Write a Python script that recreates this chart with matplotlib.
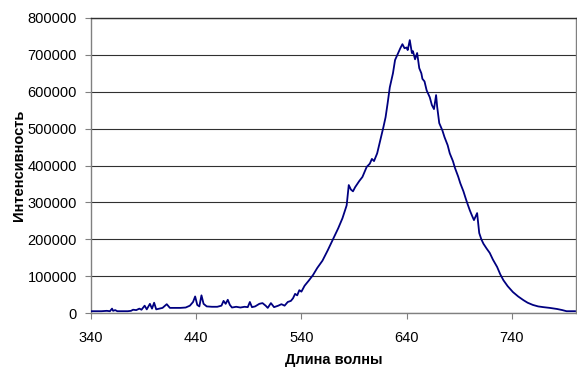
import matplotlib
matplotlib.use('Agg')
import matplotlib.pyplot as plt

# wavelength, nm
wavelength = [340, 345, 350, 355, 358, 360, 361, 363, 365, 370, 375, 378, 380, 383, 386,
              388, 391, 393, 396, 398, 400, 402, 405, 408, 412, 415, 420, 425, 430, 434,
              437, 439, 441, 443, 445, 447, 450, 455, 460, 464, 466, 468, 470, 472, 474,
              478, 482, 486, 489, 491, 493, 496, 500, 503, 506, 508, 511, 514, 518, 521,
              524, 527, 530, 532, 534, 536, 538, 540, 543, 547, 551, 555, 560, 565, 570,
              575, 579, 583, 585, 587, 589, 591, 595, 598, 602, 605, 607, 609, 612, 615,
              618, 620, 622, 624, 627, 629, 632, 634, 636, 638, 640, 641, 643, 645, 646,
              648, 650, 652, 654, 655, 657, 659, 662, 664, 666, 668, 669, 671, 674, 676,
              679, 681, 684, 686, 689, 691, 694, 696, 698, 700, 702, 704, 706, 707, 709,
              711, 713, 716, 719, 722, 726, 729, 732, 736, 741, 746, 751, 755, 760, 765,
              770, 776, 783, 788, 792, 796, 800]

# intensity
intensity = [5000, 5000, 5000, 6000, 5000, 12000, 6000, 8000, 5000, 5000, 5000, 6000, 9000, 8000, 12000,
             9000, 20000, 10000, 25000, 12000, 28000, 10000, 12000, 14000, 24000, 14000, 14000, 14000, 15000, 20000,
             30000, 45000, 22000, 18000, 48000, 25000, 18000, 17000, 17000, 20000, 33000, 25000, 36000, 22000, 15000,
             17000, 15000, 17000, 16000, 30000, 16000, 18000, 25000, 27000, 20000, 14000, 27000, 16000, 20000, 24000,
             20000, 30000, 33000, 40000, 52000, 48000, 62000, 58000, 74000, 88000, 103000, 122000, 142000, 170000, 200000,
             230000, 257000, 292000, 347000, 335000, 330000, 341000, 358000, 369000, 396000, 405000, 418000, 412000, 433000, 469000,
             505000, 531000, 570000, 612000, 650000, 686000, 705000, 718000, 729000, 718000, 720000, 713000, 740000, 705000, 710000,
             688000, 705000, 664000, 650000, 635000, 628000, 604000, 585000, 564000, 553000, 591000, 560000, 515000, 495000, 477000,
             455000, 433000, 412000, 393000, 370000, 352000, 330000, 312000, 295000, 279000, 265000, 252000, 265000, 271000, 217000,
             200000, 188000, 175000, 163000, 145000, 125000, 105000, 89000, 73000, 57000, 45000, 35000, 28000, 22000, 18000,
             16000, 14000, 11000, 8000, 5000, 5000, 5000]

x_ticks = [340, 440, 540, 640, 740]
y_ticks = [0, 100000, 200000, 300000, 400000, 500000, 600000, 700000, 800000]

plt.rcParams['font.family'] = ['Liberation Sans', 'DejaVu Sans']

fig = plt.figure(figsize=(5.77, 3.67), dpi=100)
ax = fig.add_axes([0.1577, 0.147, 0.8406, 0.804])

ax.plot(wavelength, intensity, color='#000080', linewidth=1.3, zorder=3)

ax.set_xlim(340, 801)
ax.set_ylim(0, 800000)
ax.set_xticks(x_ticks)
ax.set_yticks(y_ticks)
ax.set_xticklabels([str(v) for v in x_ticks])
ax.set_yticklabels([str(v) for v in y_ticks])

ax.yaxis.grid(True, color='#303030', linewidth=0.8)
ax.set_axisbelow(True)

for s in ax.spines.values():
    s.set_color('#808080')
    s.set_linewidth(1.0)
ax.spines['top'].set_color('#303030')

ax.tick_params(axis='both', direction='out', length=4, color='#808080',
               labelsize=10.5)
ax.tick_params(axis='x', pad=9)
ax.tick_params(axis='y', pad=6)

ax.set_xlabel('Длина волны', fontsize=10.5, fontweight='bold', labelpad=6)
ax.set_ylabel('Интенсивность', fontsize=10.5, fontweight='bold', labelpad=1)

fig.savefig('out.png', dpi=100)
